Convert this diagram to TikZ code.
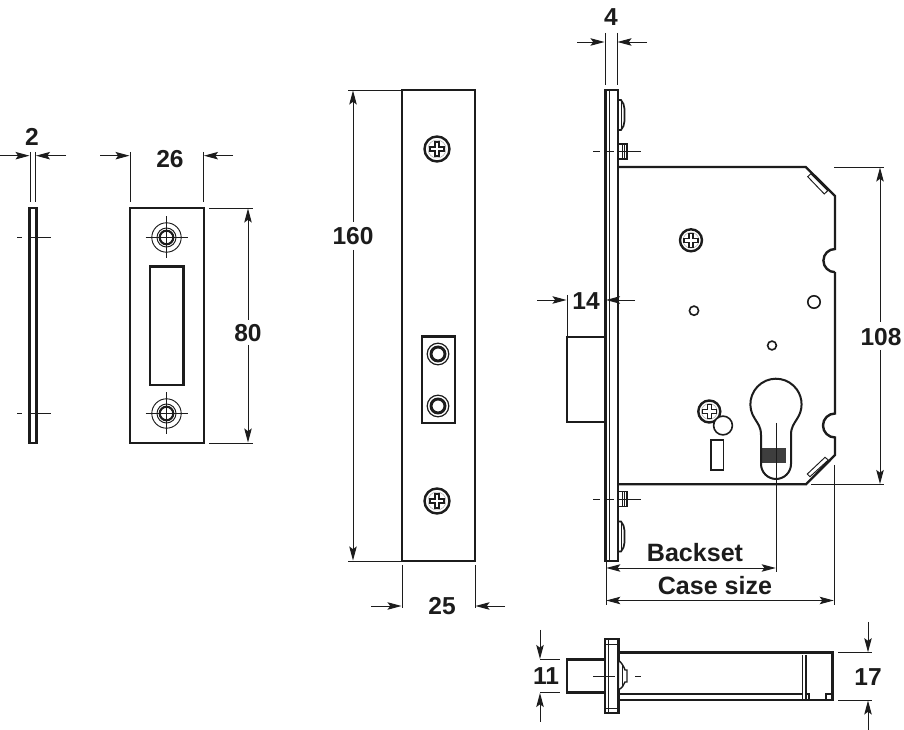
\documentclass[tikz,border=0pt]{standalone}
\usepackage{fontspec}
\setmainfont{Liberation Sans}
\usetikzlibrary{arrows.meta}
\definecolor{ink}{HTML}{1C1C1C}
\tikzset{
  x=0.75pt,y=-0.75pt,
  thickline/.style={draw=ink,line width=1.8pt,line join=miter},
  midline/.style={draw=ink,line width=1.05pt},
  thinline/.style={draw=ink,line width=0.7pt},
  dimline/.style={draw=ink,line width=0.7pt,-{Stealth[length=10.5pt,width=5.6pt,inset=2pt]}},
  dimboth/.style={draw=ink,line width=0.7pt,{Stealth[length=10.5pt,width=5.6pt,inset=2pt]}-{Stealth[length=10.5pt,width=5.6pt,inset=2pt]}},
  numlabel/.style={text=ink,font=\fontsize{18.4}{20}\selectfont\bfseries,inner sep=0pt},
  wordlabel/.style={text=ink,font=\fontsize{18.8}{20}\selectfont\bfseries,inner sep=0pt},
  crosshead/.pic={
    \draw[thickline,fill=white] (0,0) circle (#1);
    \draw[draw=ink!35,line width=0.4pt] (0,0) circle (#1*0.72);
    \draw[midline,line width=0.9pt] (-2,-2) -- (-2,-7) -- (2,-7) -- (2,-2) -- (7,-2) -- (7,2) -- (2,2) -- (2,7) -- (-2,7) -- (-2,2) -- (-7,2) -- (-7,-2) -- cycle;
  },
  striker/.pic={
    \draw[thinline] (0,0) circle (14.7);
    \draw[thinline] (0,0) circle (9.5);
    \draw[thickline,line width=1.6pt] (0,0) circle (6.8);
    \draw[thinline] (-21,0) -- (21,0) (0,-21) -- (0,21);
  },
  rollerpin/.pic={
    \draw[thinline,line width=0.9pt] (0,0) circle (10.8);
    \draw[thickline,line width=2.2pt] (0,0) circle (7);
  },
  knob/.pic={
    \draw[midline,line width=1.3pt,fill=white] (0,0) -- (3,0) -- (5.5,4) -- (6.5,9) -- (6.5,21) -- (5.5,26) -- (3,30) -- (0,30);
    \draw[thinline] (3,0) -- (3,30);
  },
  nut/.pic={
    \draw[midline,line width=1.3pt,fill=white] (0,-7.5) -- (9,-7.5) -- (9,7.5) -- (0,7.5);
    \draw[thinline] (4,-7.5) -- (4,7.5) (6.5,-7.5) -- (6.5,7.5);
    \draw[thinline] (-25,0) -- (-18,0) (-14,0) -- (-4,0) (0,0) -- (23,0);
  }
}
\begin{document}
\begin{tikzpicture}
\useasboundingbox (0,0) rectangle (904,730);
\fill[white] (0,0) rectangle (904,730);

% --- strike plate, side view
\draw[thickline] (29.5,208) rectangle (36.5,443);
\draw[thinline] (17,237.5) -- (22,237.5) (29,237.5) -- (51,237.5);
\draw[thinline] (17,413.5) -- (22,413.5) (29,413.5) -- (51,413.5);
\draw[thinline] (30,152) -- (30,202) (35.5,152) -- (35.5,202);
\draw[dimline] (0,155.7) -- (29.5,155.7);
\draw[dimline] (66,155.7) -- (36,155.7);
\node[numlabel] (dimTwo) at (32,137) {2};

% --- strike plate, front view
\draw[thickline] (130,208) rectangle (204,443);
\draw[thickline] (150,266.5) rectangle (183.5,385);
\pic at (166.5,237.5) {striker};
\pic at (166.5,413.5) {striker};
\draw[thinline] (130,152) -- (130,202) (203.5,152) -- (203.5,202);
\draw[dimline] (100,155.7) -- (129.5,155.7);
\draw[dimline] (233,155.7) -- (204,155.7);
\node[numlabel] (dimTwentySix) at (170,159.5) {26};
\draw[thinline] (209,208) -- (253,208) (209,443) -- (253,443);
\draw[dimline] (248,320) -- (248,208.5);
\draw[dimline] (248,345) -- (248,442.5);
\node[numlabel] (dimEighty) at (248,333) {80};

% --- forend, front view
\draw[thickline] (402,90) rectangle (475,561);
\pic at (437,149) {crosshead=12.5};
\pic at (437,501) {crosshead=12.5};
\draw[thickline] (421.7,336.7) rectangle (455,423);
\pic at (438,354) {rollerpin};
\pic at (438,406) {rollerpin};
\draw[thinline] (348,90) -- (402,90) (348,561) -- (402,561);
\draw[dimline] (353,222) -- (353,90.5);
\draw[dimline] (353,250) -- (353,560.5);
\node[numlabel] (dimOneSixty) at (353,236) {160};
\draw[thinline] (402,565) -- (402,608) (475,565) -- (475,608);
\draw[dimline] (371,606) -- (401.5,606);
\draw[dimline] (505,606) -- (475.5,606);
\node[numlabel] (dimTwentyFive) at (442,606) {25};

% --- lock, side view
\pic at (618,100) {knob};
\pic at (618,521.5) {knob};
\pic at (618,151.7) {nut};
\pic at (618,499) {nut};
\draw[thinline] (611,530) -- (618,530);
\draw[thickline,fill=white] (566.8,337.3) rectangle (605.5,422.3);
\draw[thickline,fill=white] (605.5,90) rectangle (618,561);
\draw[thinline] (609.5,90) -- (609.5,561);
\draw[thinline] (593,151.7) -- (600,151.7) (604,151.7) -- (614,151.7);
\draw[thinline] (593,499) -- (600,499) (604,499) -- (614,499);

% case outline
\draw[thickline] (618,167) -- (805.7,167) -- (835,196) -- (835,249)
  arc[start angle=-90,end angle=-270,radius=11.6] -- (835,272.2);
\draw[thickline] (835,272.2) -- (835,413.5)
  arc[start angle=-90,end angle=-270,radius=12] -- (835,455) -- (806,484.3) -- (618,484.3);
% chamfer slots
\draw[thinline] (807.7,176.7) -- (810.7,173.8) -- (827.7,190.7) -- (824.3,194) -- cycle;
\draw[thinline] (807.3,474) -- (810,476.7) -- (828.3,460) -- (825,457.3) -- cycle;

\pic at (691,240.3) {crosshead=11};
\draw[midline,line width=1.2pt] (694,310.7) circle (4.6);
\draw[midline,line width=1.2pt] (814,302) circle (6.2);
\draw[midline,line width=1.2pt] (772,345.5) circle (4.4);
\pic at (709.3,411.5) {crosshead=11};
\draw[midline,line width=1.2pt,fill=white] (723,425.5) circle (9.4);
\draw[midline,line width=1.2pt] (711,440) rectangle (723.5,470);

% cylinder cut-out
\fill[ink!85] (761.5,448) rectangle (786,463);
\draw[thickline,line width=1.5pt] (761,435) .. controls (761,427) and (758,424) .. (755,419)
  arc[start angle=145,end angle=395,radius=25.6]
  .. controls (794,424) and (791,427) .. (791,435) -- (791,464)
  arc[start angle=0,end angle=180,radius=15] -- cycle;

% --- lock dimensions
\draw[thinline] (605,33) -- (605,85) (617,33) -- (617,85);
\draw[dimline] (577,42) -- (604.5,42);
\draw[dimline] (647,42) -- (617.5,42);
\node[numlabel] (dimFour) at (611,17) {4};

\draw[thinline] (567,295) -- (567,337);
\draw[dimline] (537,300) -- (566.5,300);
\draw[dimline] (635,300) -- (606,300);
\node[numlabel] (dimFourteen) at (586,301) {14};

\draw[thinline] (834,167) -- (884,167) (811,484.3) -- (884,484.3);
\draw[dimline] (880,322) -- (880,167.5);
\draw[dimline] (880,350) -- (880,484);
\node[numlabel] (dimHundredEight) at (881,337) {108};

\draw[thinline] (776,423) -- (776,572);
\draw[thinline] (606,562) -- (606,605);
\draw[thinline] (834,465) -- (834,605);
\draw[dimboth] (606.3,568) -- (775.7,568);
\draw[dimboth] (606.3,600.5) -- (833.7,600.5);
\node[wordlabel] (labelBackset) at (695,553) {Backset};
\node[wordlabel] (labelCase) at (715,586) {Case size};

% --- lock, end view
\draw[thickline] (566.7,659.5) rectangle (605,692.5);
\draw[thickline] (618.3,652.7) -- (832.3,652.7) -- (832.3,700) -- (618.3,700);
\draw[midline] (618.3,694) -- (802.5,694);
\draw[midline] (802.3,655) -- (802.3,699) (806,655) -- (806,699);
\draw[midline] (806,694) -- (809,694) -- (809,700);
\draw[midline] (826,700) -- (826,694) -- (832,694);
\draw[thickline,fill=white] (605,639.3) rectangle (618.3,713.3);
\draw[thinline] (608.8,639.3) -- (608.8,713.3);
\draw[thinline] (605,644) -- (618,644) (605,708) -- (618,708);
\draw[midline,fill=white] (618.3,660) .. controls (622,663) and (624,667) .. (625,670) -- (627,670) -- (627,682) -- (625,682) .. controls (624,685) and (622,688) .. (618.3,690) -- cycle;
\draw[thinline] (622,664) -- (622,687);
\draw[thinline] (593,676) -- (615,676) (635,676) -- (641,676);

\draw[thinline] (540,659.5) -- (560,659.5) (540,692.5) -- (560,692.5);
\draw[dimline] (540,630) -- (540,659);
\draw[dimline] (540,722) -- (540,693);
\node[numlabel] (dimEleven) at (546,676.5) {11};
\draw[thinline] (838,652.7) -- (872,652.7) (838,700) -- (872,700);
\draw[dimline] (868,622) -- (868,652.2);
\draw[dimline] (868,730) -- (868,700.5);
\node[numlabel] (dimSeventeen) at (868,677) {17};
\end{tikzpicture}
\end{document}
